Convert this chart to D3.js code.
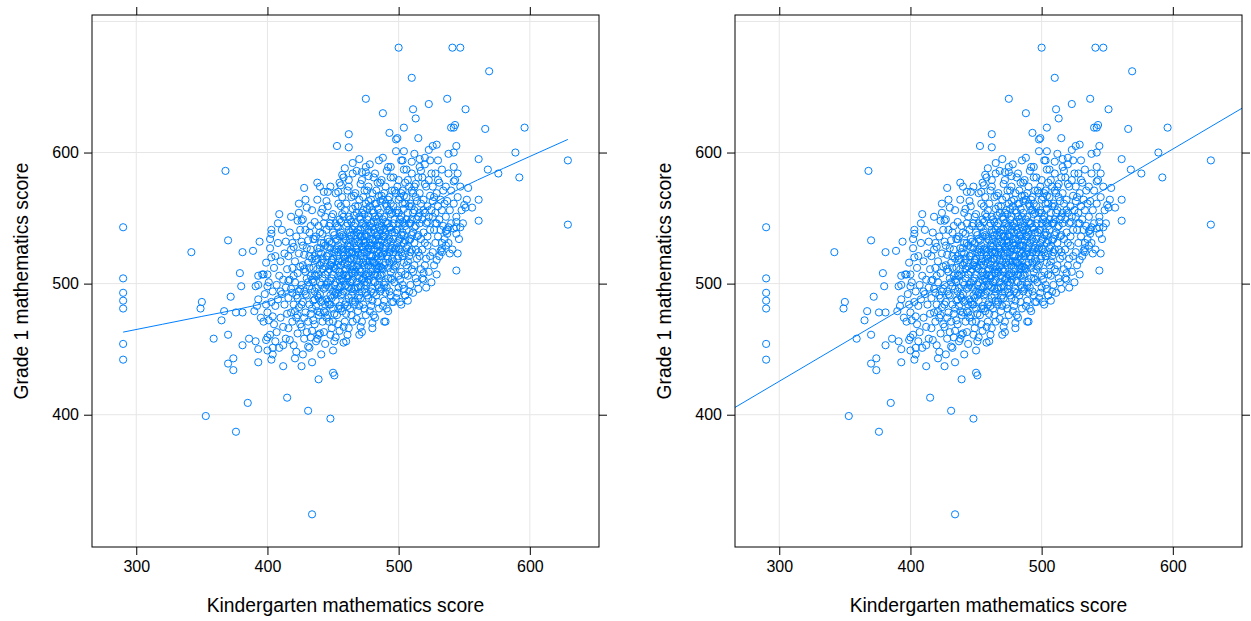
<!DOCTYPE html>
<html>
<head>
<meta charset="utf-8">
<script src="https://cdn.jsdelivr.net/npm/d3@7"></script>
<style>
    body { margin: 0; background: #fff; }
    text { font-family: "Liberation Sans", Arial, sans-serif; fill: #000; }
</style>
</head>
<body>
<svg id="chart" width="1251" height="621"></svg>
<script>
// [kindergarten score, grade 1 score]
const mathScores = [
    // sparse points around the cloud
    [368,586],[500,680],[510,657],[475,641],[523,637],[488,630],[511,633],[513,626],[504,619],[493,615],
    [498,610],[499,611],[515,611],[462,614],[453,605],[462,604],[498,601],[504,601],[470,595],[465,592],
    [459,588],[457,583],[462,579],[456,575],[438,577],[428,573],[443,570],[446,570],[454,570],[472,585],
    [475,585],[477,582],[494,589],[503,594],[510,593],[516,595],[520,596],[523,602],
    [541,680],[547,680],[569,662],[537,641],[551,633],[540,619],[542,619],[543,621],[566,618],[596,619],
    [529,606],[526,605],[544,605],[542,600],[589,600],[561,595],[629,594],[568,587],[576,584],[592,581],
    [545,584],[553,573],[542,578],
    [629,545],[561,564],[561,548],[552,564],[550,560],[551,558],[556,558],[544,547],[547,543],[544,543],
    [542,542],[538,543],[536,540],[537,538],[544,538],[533,531],[536,529],[532,525],[533,524],[539,523],
    [545,523],[529,518],[544,510],
    [290,543],[290,504],[290,493],[290,487],[290,481],[290,454],[290,442],
    [342,524],[370,533],[381,524],[389,525],[394,532],[379,508],[380,498],[393,506],[393,499],[391,498],
    [372,490],[350,486],[349,481],[393,488],[392,483],[367,479],[376,478],[381,478],[390,479],[365,472],
    [395,474],[359,458],[370,461],[386,458],[381,453],[391,456],[393,450],[374,443],[370,439],[374,434],
    [393,440],[385,409],[353,399],[376,387],
    [439,427],[451,430],[415,413],[431,403],[448,397],[434,324],
    [409,553],[424,554],[403,541],[402,534],[403,520],[397,507],[400,507],[400,498],[399,484],[404,475],
    [401,472],[400,459],[404,451],[400,449],[403,442],[426,437],[434,440],[450,432],[412,453],[458,455],
    [472,463],[489,471],[480,470],[496,486],[505,491],[507,487],[519,508],
    // dense cloud
    [396,507],[397,471],[398,492],[399,516],[400,478],[401,501],[402,461],[402,527],[403,486],[404,494],
    [404,446],[405,512],[405,469],[403,538],[399,457],
    [406,483],[406,521],[407,499],[407,463],[408,531],[408,488],[409,506],[409,451],[410,474],[410,517],
    [411,492],[411,541],[412,467],[412,503],[413,484],[413,523],[414,458],[414,497],[415,511],[415,477],
    [408,546],[412,437],[410,494],[414,532],[406,456],
    [416,489],[416,521],[416,466],[417,503],[417,539],[418,478],[418,496],[418,551],[419,512],[419,471],
    [420,484],[420,528],[420,453],[421,501],[421,517],[421,443],[422,491],[422,536],[422,474],[423,508],
    [423,462],[423,548],[424,494],[424,523],[424,482],[425,469],[425,513],[425,541],[417,457],[419,531],
    [420,506],[422,448],[423,489],[424,561],[416,502],[418,526],[421,479],[425,496],[419,493],[423,476],
    [426,499],[426,532],[426,467],[427,486],[427,514],[427,549],[428,458],[428,494],[428,522],[429,478],
    [429,509],[429,541],[430,491],[430,463],[430,527],[430,558],[431,501],[431,471],[431,516],[432,484],
    [432,539],[432,451],[433,506],[433,526],[433,477],[434,496],[434,556],[434,464],[435,512],[435,487],
    [435,534],[426,484],[427,446],[428,511],[429,564],[430,504],[431,533],[432,498],[433,459],[434,519],
    [435,472],[426,548],[428,474],[429,492],[431,452],[432,521],[433,544],[434,481],[435,501],[427,529],
    [436,494],[436,521],[436,469],[436,547],[437,506],[437,483],[437,536],[438,511],[438,458],[438,564],
    [439,489],[439,524],[439,476],[440,501],[440,539],[440,514],[440,462],[441,486],[441,531],[441,554],
    [442,504],[442,471],[442,519],[443,496],[443,546],[443,479],[444,513],[444,454],[444,529],[445,499],
    [445,488],[445,563],[436,506],[437,456],[438,527],[438,491],[439,544],[439,507],[440,478],[440,574],
    [441,499],[441,446],[442,538],[442,487],[443,516],[443,463],[444,497],[444,551],[445,474],[445,521],
    [436,534],[437,518],[438,479],[439,461],[440,527],[441,516],[442,557],[443,531],[444,484],[445,541],
    [446,509],[446,486],[446,534],[446,559],[447,497],[447,523],[447,471],[448,514],[448,546],[448,491],
    [449,504],[449,531],[449,466],[450,519],[450,494],[450,553],[450,481],[451,512],[451,537],[451,456],
    [452,501],[452,526],[452,569],[452,487],[453,514],[453,476],[453,544],[454,506],[454,529],[454,493],
    [455,519],[455,464],[455,549],[455,509],[446,521],[447,544],[447,484],[448,461],[448,527],[449,516],
    [449,489],[450,539],[450,507],[451,477],[451,524],[452,546],[452,511],[453,496],[453,533],[454,469],
    [454,517],[454,561],[455,497],[455,483],[446,501],[447,511],[448,502],[449,551],[450,471],[451,499],
    [452,459],[453,521],[454,543],[455,536],[446,476],[448,574],[450,449],[452,534],[454,481],[455,577],
    [456,514],[456,491],[456,539],[456,559],[457,504],[457,527],[457,479],[458,521],[458,551],[458,494],
    [459,511],[459,534],[459,471],[460,526],[460,499],[460,561],[460,486],[461,514],[461,546],[461,461],
    [462,506],[462,531],[462,574],[462,489],[463,519],[463,481],[463,549],[464,509],[464,537],[464,496],
    [465,524],[465,471],[465,557],[465,513],[456,526],[457,553],[457,492],[458,467],[458,536],[459,519],
    [459,498],[460,544],[460,511],[461,483],[461,529],[462,551],[462,517],[463,501],[463,539],[464,476],
    [464,524],[464,566],[465,503],[465,487],[456,506],[457,517],[458,507],[459,556],[460,477],[461,504],
    [462,466],[463,528],[464,547],[465,541],[456,481],[458,581],[460,456],[462,541],[464,491],[465,584],
    [457,566],[459,484],[461,571],[463,511],[456,547],[458,524],[460,533],[462,497],[464,519],[465,494],
    [466,519],[466,496],[466,544],[466,567],[467,509],[467,534],[467,486],[468,526],[468,554],[468,501],
    [469,514],[469,541],[469,479],[470,531],[470,504],[470,564],[470,491],[471,521],[471,549],[471,467],
    [472,511],[472,536],[472,579],[472,494],[473,526],[473,484],[473,556],[474,514],[474,543],[474,501],
    [475,529],[475,476],[475,561],[475,517],[466,531],[467,559],[467,497],[468,473],[468,539],[469,524],
    [469,506],[470,551],[470,517],[471,489],[471,536],[472,554],[472,523],[473,504],[473,546],[474,481],
    [474,531],[474,571],[475,507],[475,493],[466,511],[467,522],[468,513],[469,559],[470,483],[471,509],
    [472,471],[473,533],[474,553],[475,544],[466,484],[468,586],[470,461],[472,546],[474,496],[475,589],
    [467,569],[469,489],[471,576],[473,516],[466,552],[468,529],[470,538],[472,503],[474,524],[475,499],
    [467,546],[469,532],[471,498],[473,566],[475,537],
    [476,524],[476,501],[476,549],[476,571],[477,514],[477,541],[477,489],[478,531],[478,559],[478,506],
    [479,521],[479,546],[479,483],[480,534],[480,511],[480,569],[480,496],[481,526],[481,554],[481,476],
    [482,516],[482,539],[482,584],[482,501],[483,529],[483,491],[483,561],[484,519],[484,547],[484,506],
    [485,534],[485,481],[485,567],[485,523],[476,536],[477,563],[477,503],[478,479],[478,544],[479,529],
    [479,509],[480,556],[480,521],[481,493],[481,541],[482,561],[482,527],[483,511],[483,549],[484,486],
    [484,536],[484,577],[485,513],[485,497],[476,516],[477,527],[478,517],[479,564],[480,487],[481,516],
    [482,474],[483,537],[484,557],[485,551],[476,491],[478,591],[480,466],[482,551],[484,499],[485,594],
    [477,574],[479,494],[481,581],[483,521],[476,557],[478,534],[480,543],[482,507],[484,529],[485,504],
    [477,551],[479,539],[481,502],[483,571],[485,543],
    [486,529],[486,506],[486,554],[486,577],[487,521],[487,544],[487,496],[488,536],[488,564],[488,511],
    [489,524],[489,551],[489,487],[490,539],[490,516],[490,574],[490,501],[491,531],[491,559],[491,481],
    [492,519],[492,546],[492,589],[492,504],[493,534],[493,494],[493,566],[494,526],[494,553],[494,509],
    [495,539],[495,486],[495,571],[495,527],[486,541],[487,567],[487,507],[488,483],[488,549],[489,536],
    [489,514],[490,561],[490,527],[491,497],[491,546],[492,564],[492,533],[493,516],[493,556],[494,491],
    [494,541],[494,581],[495,519],[495,503],[486,521],[487,533],[488,523],[489,569],[490,493],[491,521],
    [492,479],[493,543],[494,561],[495,554],[486,494],[488,596],[490,471],[492,556],[494,504],[487,579],
    [489,499],[491,586],[493,524],[486,563],[488,541],
    [496,534],[496,511],[496,559],[496,581],[497,526],[497,549],[497,501],[498,541],[498,569],[498,514],
    [499,531],[499,556],[499,493],[500,546],[500,521],[500,579],[500,506],[501,534],[501,566],[501,486],
    [502,524],[502,551],[502,594],[502,509],[503,539],[503,499],[503,571],[504,531],[504,557],[504,516],
    [505,544],[505,491],[505,577],[505,533],[496,546],[497,571],[497,513],[498,489],[498,554],[499,541],
    [499,519],[500,564],[500,533],[501,503],[501,549],[502,569],[502,537],[503,521],[503,561],[504,496],
    [504,546],[504,587],[505,523],[505,507],[496,524],[497,539],[498,527],[499,574],[500,497],[501,526],
    [502,484],[503,547],[504,567],[505,561],[500,554],
    [506,541],[506,514],[506,566],[506,587],[507,529],[507,554],[507,506],[508,546],[508,574],[508,521],
    [509,534],[509,561],[509,499],[510,549],[510,526],[510,584],[510,511],[511,539],[511,569],[511,493],
    [512,531],[512,556],[512,599],[512,514],[513,544],[513,504],[513,576],[514,536],[514,563],[514,519],
    [515,551],[515,496],[515,581],[515,537],[506,549],[507,579],[507,517],[508,494],[508,559],[509,546],
    [509,524],[510,571],[510,537],[511,509],[511,554],[512,574],[512,543],[513,526],[513,566],[514,501],
    [514,549],[515,524],[506,527],[508,533],[510,559],
    [516,546],[516,521],[516,569],[516,589],[517,534],[517,561],[517,511],[518,549],[518,581],[518,526],
    [519,539],[519,564],[519,503],[520,554],[520,531],[520,591],[520,514],[521,546],[521,574],[521,497],
    [522,536],[522,559],[522,529],[523,551],[523,509],[523,579],[524,541],[524,567],[524,521],[525,556],
    [525,501],[525,584],[516,554],[517,586],[518,504],[519,556],[520,576],[521,519],[522,547],[524,594],
    [526,551],[526,524],[526,574],[527,541],[527,566],[527,514],[528,554],[528,584],[528,531],[529,546],
    [529,569],[529,507],[530,559],[530,536],[530,594],[531,549],[531,577],[531,521],[532,541],[532,564],
    [533,556],[533,527],[533,587],[534,544],[534,571],[535,561],[535,534],[526,563],[528,546],[530,579],
    [536,551],[536,574],[537,541],[537,563],[538,584],[538,531],[539,556],[540,571],[540,546],[541,526],
    [542,561],[543,579],[544,551],[545,566],[546,534],[547,574],[548,556],[549,546],[538,599],[542,589],
    // extra fill in the middle of the cloud
    [432,512],[437,497],[441,523],[444,507],[447,532],[449,518],[451,491],[453,527],[455,503],[457,537],
    [459,515],[461,522],[463,534],[465,508],[467,527],[469,497],[471,541],[473,519],[475,532],[477,508],
    [479,526],[481,547],[483,514],[485,529],[487,512],[489,542],[434,503],[438,519],[442,511],[446,528],
    [450,513],[454,524],[458,502],[462,524],[466,537],[470,511],[474,536],[478,522],[482,533],[486,513],
    [490,547],[494,532],[436,488],[440,492],[444,478],[448,484],[452,493],[456,498],[460,506],[464,502],
    [468,518],[472,528],[476,506],[480,517],[484,512],[488,527],[492,512],[496,517],[500,527],[504,537]
];

// smooth through the left panel
const loessCurve = [
    [290,463],[320,469],[350,475],[380,481],[400,486],[420,495],[440,507],[460,519],
    [480,531],[500,544],[520,557],[540,569],[560,579],[580,588],[600,597],[629,610]
];

// straight fit in the right panel
const lmIntercept = 248.3;
const lmSlope = 0.5906;

const xTicks = [300, 400, 500, 600];
const yTicks = [400, 500, 600];
const xGrid = [300, 400, 500, 600];
const yGrid = [400, 500, 600, 700];

const xLabel = 'Kindergarten mathematics score';
const yLabel = 'Grade 1 mathematics score';

const blue = '#0080ff';

const svg = d3.select('#chart');

const panelW = 507;
const panelH = 532;
const panelTop = 15;
const panelLefts = [92, 735];

// lattice pads the data range by 7% on each side
function padded(ext) {
    const d = (ext[1] - ext[0]) * 0.07;
    return [ext[0] - d, ext[1] + d];
}

const xScale = d3.scaleLinear()
    .domain(padded(d3.extent(mathScores, d => d[0])))
    .range([0, panelW]);
const yScale = d3.scaleLinear()
    .domain(padded(d3.extent(mathScores, d => d[1])))
    .range([panelH, 0]);

function panel(left, fit) {
    const g = svg.append('g').attr('transform', `translate(${left},${panelTop})`);

    // grid
    g.selectAll('.vg').data(xGrid).join('line')
        .attr('x1', d => xScale(d)).attr('x2', d => xScale(d))
        .attr('y1', 0).attr('y2', panelH)
        .attr('stroke', '#e6e6e6').attr('stroke-width', 1);
    g.selectAll('.hg').data(yGrid).join('line')
        .attr('x1', 0).attr('x2', panelW)
        .attr('y1', d => yScale(d)).attr('y2', d => yScale(d))
        .attr('stroke', '#e6e6e6').attr('stroke-width', 1);

    // axes: labels bottom/left, bare ticks top/right
    const tk = 8;
    const bottom = g.append('g').attr('transform', `translate(0,${panelH})`)
        .call(d3.axisBottom(xScale).tickValues(xTicks).tickSize(tk).tickPadding(6));
    const top = g.append('g')
        .call(d3.axisTop(xScale).tickValues(xTicks).tickSize(tk).tickFormat(''));
    const leftAx = g.append('g')
        .call(d3.axisLeft(yScale).tickValues(yTicks).tickSize(tk).tickPadding(5));
    const right = g.append('g').attr('transform', `translate(${panelW},0)`)
        .call(d3.axisRight(yScale).tickValues(yTicks).tickSize(tk).tickFormat(''));
    [bottom, top, leftAx, right].forEach(a => {
        a.select('.domain').remove();
        a.selectAll('.tick line').attr('stroke', '#000');
        a.selectAll('.tick text').attr('font-size', 16).attr('fill', '#000')
            .style('font-family', '"Liberation Sans", Arial, sans-serif');
    });

    // points
    g.append('g').selectAll('circle').data(mathScores).join('circle')
        .attr('cx', d => xScale(d[0]))
        .attr('cy', d => yScale(d[1]))
        .attr('r', 3.6)
        .attr('fill', 'none')
        .attr('stroke', blue)
        .attr('stroke-width', 1);

    // fitted line
    const line = d3.line()
        .x(d => xScale(d[0]))
        .y(d => yScale(d[1]));
    let fitData;
    if (fit === 'loess') {
        line.curve(d3.curveMonotoneX);
        fitData = loessCurve;
    } else {
        fitData = xScale.domain().map(x => [x, lmIntercept + lmSlope * x]);
    }
    g.append('path')
        .attr('d', line(fitData))
        .attr('fill', 'none')
        .attr('stroke', blue)
        .attr('stroke-width', 1);

    // frame
    g.append('rect')
        .attr('width', panelW).attr('height', panelH)
        .attr('fill', 'none').attr('stroke', '#000').attr('stroke-width', 1);

    // titles
    g.append('text')
        .attr('x', panelW / 2).attr('y', 597)
        .attr('text-anchor', 'middle')
        .attr('font-size', 19.3)
        .text(xLabel);
    g.append('text')
        .attr('transform', `translate(-64,${panelH / 2}) rotate(-90)`)
        .attr('text-anchor', 'middle')
        .attr('font-size', 19.3)
        .text(yLabel);
}

panel(panelLefts[0], 'loess');
panel(panelLefts[1], 'lm');
</script>
</body>
</html>
